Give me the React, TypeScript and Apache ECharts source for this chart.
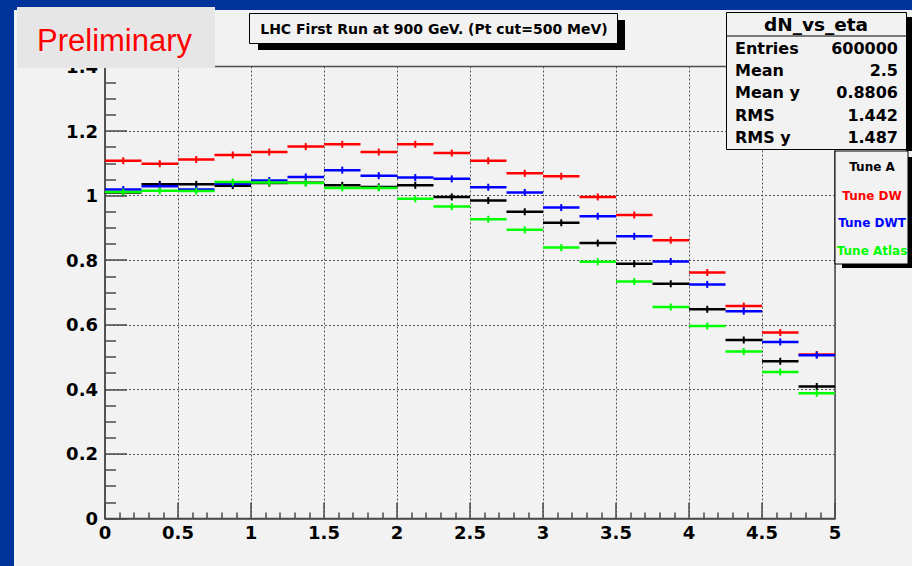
import React, { useEffect, useRef } from "react";
import * as echarts from "echarts";

// Bin edges in eta (20 bins of 0.25)
const binEdges = [0, 0.25, 0.5, 0.75, 1, 1.25, 1.5, 1.75, 2, 2.25, 2.5, 2.75, 3, 3.25, 3.5, 3.75, 4, 4.25, 4.5, 4.75, 5];

const tuneA = [1.010, 1.035, 1.035, 1.031, 1.039, 1.040, 1.032, 1.027, 1.032, 0.996, 0.985, 0.950, 0.916, 0.853, 0.789, 0.727, 0.648, 0.553, 0.487, 0.409];
const tuneDW = [1.108, 1.099, 1.112, 1.126, 1.135, 1.152, 1.159, 1.135, 1.159, 1.132, 1.108, 1.069, 1.060, 0.996, 0.940, 0.862, 0.762, 0.658, 0.576, 0.508];
const tuneDWT = [1.019, 1.029, 1.019, 1.037, 1.047, 1.058, 1.079, 1.062, 1.056, 1.052, 1.026, 1.010, 0.963, 0.936, 0.874, 0.796, 0.725, 0.642, 0.547, 0.506];
const tuneAtlas = [1.011, 1.015, 1.014, 1.042, 1.041, 1.039, 1.024, 1.024, 0.990, 0.966, 0.927, 0.894, 0.839, 0.795, 0.734, 0.655, 0.596, 0.517, 0.454, 0.388];

const legendNames = ["Tune A", "Tune DW", "Tune DWT", "Tune Atlas"];
const legendColors = ["#000000", "#ff0000", "#0000ff", "#00ff00"];

const statsTitle = "dN_vs_eta";
const statsLabels = ["Entries", "Mean", "Mean y", "RMS", "RMS y"];
const statsValues = ["600000", "2.5", "0.8806", "1.442", "1.487"];

const titleText = "LHC First Run at 900 GeV. (Pt cut=500 MeV)";
const prelimText = "Preliminary";

const FONT = "'DejaVu Sans', sans-serif";

function renderBin(color: string) {
  return (_params: any, api: any) => {
    const x0 = api.value(0);
    const x1 = api.value(1);
    const y = api.value(2);
    const p0 = api.coord([x0, y]);
    const p1 = api.coord([x1, y]);
    const cx = (p0[0] + p1[0]) / 2;
    return {
      type: "group",
      children: [
        { type: "line", shape: { x1: p0[0], y1: p0[1], x2: p1[0], y2: p1[1] }, style: { stroke: color, lineWidth: 2.5 } },
        { type: "line", shape: { x1: cx, y1: p0[1] - 3.5, x2: cx, y2: p0[1] + 3.5 }, style: { stroke: color, lineWidth: 2 } },
      ],
    };
  };
}

function makeSeries(name: string, color: string, values: number[]) {
  return {
    type: "custom",
    name,
    renderItem: renderBin(color),
    dimensions: ["lo", "hi", "v"],
    encode: { x: [0, 1], y: 2 },
    data: values.map((v, i) => [binEdges[i], binEdges[i + 1], v]),
    z: 5,
  };
}

export default function App() {
  const ref = useRef<HTMLDivElement>(null);
  useEffect(() => {
    if (!ref.current) return;
    const chart = echarts.init(ref.current, null, { renderer: "svg" });
    const axisColor = "#4a4a4a";
    const graphics: any[] = [
      // blue border strips
      { type: "rect", shape: { x: 0, y: 0, width: 14, height: 566 }, style: { fill: "#003399" }, z: 1 },
      { type: "rect", shape: { x: 0, y: 0, width: 912, height: 10 }, style: { fill: "#003399" }, z: 1 },
      // Preliminary box
      { type: "rect", shape: { x: 17, y: 7, width: 198, height: 61 }, style: { fill: "#e6e6e6" }, z: 100 },
      { type: "text", x: 37, y: 40, style: { text: prelimText, font: "31px 'Liberation Sans', sans-serif", fill: "#ff0000", align: "left", verticalAlign: "middle" }, z: 101 },
      // Title box with shadow
      { type: "rect", shape: { x: 258, y: 20, width: 367, height: 30 }, style: { fill: "#000000" }, z: 100 },
      { type: "rect", shape: { x: 249.5, y: 13.5, width: 368, height: 30 }, style: { fill: "#f2f2f2", stroke: "#000000", lineWidth: 1 }, z: 101 },
      { type: "text", x: 434, y: 29, style: { text: titleText, font: `bold 14px ${FONT}`, fill: "#000000", align: "center", verticalAlign: "middle" }, z: 102 },
      // Stats box
      { type: "rect", shape: { x: 906, y: 17, width: 6, height: 134 }, style: { fill: "#000000" }, z: 100 },
      { type: "rect", shape: { x: 726.5, y: 12.5, width: 180, height: 137 }, style: { fill: "#f2f2f2", stroke: "#000000", lineWidth: 1 }, z: 101 },
      { type: "line", shape: { x1: 726.5, y1: 36, x2: 906.5, y2: 36 }, style: { stroke: "#000000", lineWidth: 1 }, z: 102 },
      { type: "text", x: 816, y: 24, style: { text: statsTitle, font: `bold 18.5px ${FONT}`, fill: "#000000", align: "center", verticalAlign: "middle" }, z: 102 },
      // Legend box
      { type: "rect", shape: { x: 842, y: 157, width: 72, height: 111 }, style: { fill: "#000000" }, z: 100 },
      { type: "rect", shape: { x: 835, y: 151, width: 73, height: 113 }, style: { fill: "#f2f2f2", stroke: "#000000", lineWidth: 1 }, z: 101 },
    ];
    const rowY = [48, 70, 92, 115, 137];
    statsLabels.forEach((lab, i) => {
      graphics.push({ type: "text", x: 735, y: rowY[i], style: { text: lab, font: `bold 16px ${FONT}`, fill: "#000000", align: "left", verticalAlign: "middle" }, z: 102 });
      graphics.push({ type: "text", x: 898, y: rowY[i], style: { text: statsValues[i], font: `bold 16px ${FONT}`, fill: "#000000", align: "right", verticalAlign: "middle" }, z: 102 });
    });
    const legY = [167, 196, 223, 251];
    legendNames.forEach((n, i) => {
      graphics.push({ type: "text", x: 872, y: legY[i], style: { text: n, font: `bold 12px ${FONT}`, fill: legendColors[i], align: "center", verticalAlign: "middle" }, z: 102 });
    });

    const labelStyle = { color: "#000000", fontFamily: FONT, fontWeight: "bold" as const, fontSize: 18 };
    chart.setOption({
      animation: false,
      backgroundColor: "#f2f2f2",
      grid: { left: 105, right: 77, top: 66.5, bottom: 47.5, show: true, borderColor: axisColor, borderWidth: 1.5, backgroundColor: "transparent" },
      xAxis: {
        type: "value", min: 0, max: 5, interval: 0.5,
        axisLine: { show: true, lineStyle: { color: axisColor, width: 1.5 } },
        axisTick: { show: true, inside: true, length: 16, lineStyle: { color: axisColor, width: 1.5 } },
        minorTick: { show: true, splitNumber: 5, length: 6, lineStyle: { color: axisColor, width: 1.5 } },
        splitLine: { show: true, lineStyle: { color: "#555555", type: [2, 2], width: 1 } },
        axisLabel: { ...labelStyle, margin: 5, formatter: (v: number) => String(v) },
      },
      yAxis: {
        type: "value", min: 0, max: 1.4, interval: 0.2,
        axisLine: { show: true, lineStyle: { color: axisColor, width: 1.5 } },
        axisTick: { show: true, inside: true, length: 22, lineStyle: { color: axisColor, width: 1.5 } },
        minorTick: { show: true, splitNumber: 4, length: 11, lineStyle: { color: axisColor, width: 1.5 } },
        splitLine: { show: true, lineStyle: { color: "#555555", type: [2, 2], width: 1 } },
        axisLabel: { ...labelStyle, margin: 7, formatter: (v: number) => String(Math.round(v * 10) / 10) },
      },
      series: [
        makeSeries("Tune DW", "#ff0000", tuneDW),
        makeSeries("Tune A", "#000000", tuneA),
        makeSeries("Tune DWT", "#0000ff", tuneDWT),
        makeSeries("Tune Atlas", "#00ff00", tuneAtlas),
      ],
      graphic: { elements: graphics },
    });
    return () => chart.dispose();
  }, []);
  return <div ref={ref} style={{ position: "fixed", left: 0, top: 0, width: 912, height: 566 }} />;
}
